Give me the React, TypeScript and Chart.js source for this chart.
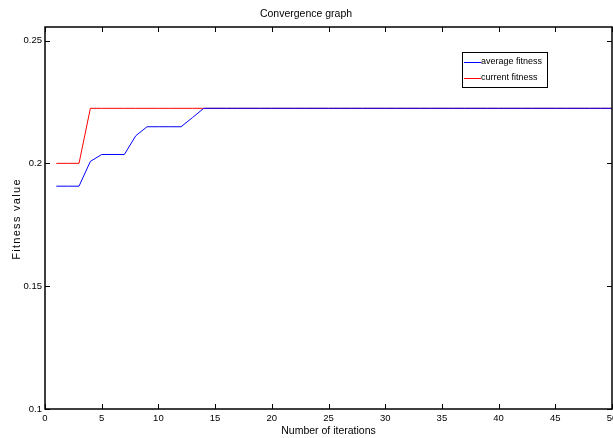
import React, { useEffect, useRef } from 'react';
import { Chart, registerables } from 'chart.js';

Chart.register(...registerables);

const iterations = [
  1, 2, 3, 4, 5, 6, 7, 8, 9, 10,
  11, 12, 13, 14, 15, 16, 17, 18, 19, 20,
  21, 22, 23, 24, 25, 26, 27, 28, 29, 30,
  31, 32, 33, 34, 35, 36, 37, 38, 39, 40,
  41, 42, 43, 44, 45, 46, 47, 48, 49, 50,
];

const averageFitness = [
  0.1907, 0.1907, 0.1907, 0.2008, 0.2036, 0.2036, 0.2036, 0.2112, 0.2149, 0.2149,
  0.2149, 0.2149, 0.2186, 0.2224, 0.2224, 0.2224, 0.2224, 0.2224, 0.2224, 0.2224,
  0.2224, 0.2224, 0.2224, 0.2224, 0.2224, 0.2224, 0.2224, 0.2224, 0.2224, 0.2224,
  0.2224, 0.2224, 0.2224, 0.2224, 0.2224, 0.2224, 0.2224, 0.2224, 0.2224, 0.2224,
  0.2224, 0.2224, 0.2224, 0.2224, 0.2224, 0.2224, 0.2224, 0.2224, 0.2224, 0.2224,
];

const currentFitness = [
  0.2, 0.2, 0.2, 0.2224, 0.2224, 0.2224, 0.2224, 0.2224, 0.2224, 0.2224,
  0.2224, 0.2224, 0.2224, 0.2224, 0.2224, 0.2224, 0.2224, 0.2224, 0.2224, 0.2224,
  0.2224, 0.2224, 0.2224, 0.2224, 0.2224, 0.2224, 0.2224, 0.2224, 0.2224, 0.2224,
  0.2224, 0.2224, 0.2224, 0.2224, 0.2224, 0.2224, 0.2224, 0.2224, 0.2224, 0.2224,
  0.2224, 0.2224, 0.2224, 0.2224, 0.2224, 0.2224, 0.2224, 0.2224, 0.2224, 0.2224,
];

const xTickValues = [0, 5, 10, 15, 20, 25, 30, 35, 40, 45, 50];
const yTickValues = [0.1, 0.15, 0.2, 0.25];
const seriesLabels = ['average fitness', 'current fitness'];
const seriesColors = ['#0000ff', '#ff0000'];
const chartTitle = 'Convergence graph';
const xAxisTitle = 'Number of iterations';
const yAxisTitle = 'Fitness value';

const FONT = "'Liberation Sans', Arial, sans-serif";

const framePlugin = {
  id: 'matlabFrame',
  afterDraw(chart: any) {
    const { ctx, chartArea, scales } = chart;
    const { left, right, top, bottom } = chartArea;
    ctx.save();
    ctx.strokeStyle = '#000';
    ctx.lineWidth = 1;
    const tl = 5;
    ctx.beginPath();
    xTickValues.forEach((v) => {
      const px = Math.round(scales.x.getPixelForValue(v)) + 0.5;
      ctx.moveTo(px, bottom);
      ctx.lineTo(px, bottom - tl);
      ctx.moveTo(px, top);
      ctx.lineTo(px, top + tl);
    });
    yTickValues.forEach((v) => {
      const py = Math.round(scales.y.getPixelForValue(v)) + 0.5;
      ctx.moveTo(left, py);
      ctx.lineTo(left + tl, py);
      ctx.moveTo(right, py);
      ctx.lineTo(right - tl, py);
    });
    ctx.stroke();

    ctx.lineWidth = 1.5;
    ctx.strokeRect(left, top, right - left, bottom - top);

    // y axis title, letter-spaced like the original
    ctx.save();
    ctx.translate(17, (top + bottom) / 2 + 1);
    ctx.rotate(-Math.PI / 2);
    ctx.font = `11px ${FONT}`;
    (ctx as any).letterSpacing = '1.3px';
    ctx.fillStyle = '#000';
    ctx.textAlign = 'center';
    ctx.textBaseline = 'middle';
    ctx.fillText(yAxisTitle, 0, 0);
    ctx.restore();

    // legend
    const lx = 462;
    const ly = 52;
    const lw = 85;
    const lh = 35;
    ctx.fillStyle = '#fff';
    ctx.fillRect(lx, ly, lw, lh);
    ctx.lineWidth = 1;
    ctx.strokeStyle = '#000';
    ctx.strokeRect(lx + 0.5, ly + 0.5, lw, lh);
    ctx.font = `9px ${FONT}`;
    ctx.textBaseline = 'middle';
    ctx.textAlign = 'left';
    chart.data.datasets.forEach((ds: any, i: number) => {
      const y = ly + 10 + i * 16;
      ctx.strokeStyle = ds.borderColor;
      ctx.lineWidth = 1;
      ctx.beginPath();
      ctx.moveTo(lx + 2, y + 0.5);
      ctx.lineTo(lx + 19, y + 0.5);
      ctx.stroke();
      ctx.fillStyle = '#000';
      ctx.fillText(ds.label, lx + 19, y);
    });
    ctx.restore();
  },
};

export default function App() {
  const canvasRef = useRef<HTMLCanvasElement | null>(null);

  useEffect(() => {
    const canvas = canvasRef.current;
    if (!canvas) return;
    const chart = new Chart(canvas, {
      type: 'line',
      data: {
        datasets: [
          {
            label: seriesLabels[0],
            data: iterations.map((x, i) => ({ x, y: averageFitness[i] })),
            borderColor: seriesColors[0],
            backgroundColor: seriesColors[0],
            borderWidth: 1,
            pointRadius: 0,
            tension: 0,
            fill: false,
          },
          {
            label: seriesLabels[1],
            data: iterations.map((x, i) => ({ x, y: currentFitness[i] })),
            borderColor: seriesColors[1],
            backgroundColor: seriesColors[1],
            borderWidth: 1,
            pointRadius: 0,
            tension: 0,
            fill: false,
          },
        ],
      },
      options: {
        responsive: false,
        animation: false,
        layout: { padding: { left: 0, right: 1, top: 0, bottom: 0 } },
        plugins: {
          legend: { display: false },
          tooltip: { enabled: false },
          title: {
            display: true,
            text: chartTitle,
            color: '#000',
            font: { family: FONT, size: 10.5, weight: 'normal', lineHeight: 1.2 },
            padding: { top: 8, bottom: 6.4 },
          },
        },
        scales: {
          x: {
            type: 'linear',
            min: 0,
            max: 50,
            afterBuildTicks: (scale: any) => {
              scale.ticks = xTickValues.map((v) => ({ value: v }));
            },
            afterFit: (scale: any) => {
              scale.height = 29;
              scale.paddingLeft = 0;
              scale.paddingRight = 0;
            },
            grid: { display: false, drawTicks: false },
            border: { display: false },
            ticks: {
              color: '#000',
              font: { family: FONT, size: 9.5 },
              padding: 4,
              maxRotation: 0,
              autoSkip: false,
            },
            title: {
              display: true,
              text: xAxisTitle,
              color: '#000',
              font: { family: FONT, size: 10.5 },
              padding: { top: 0, bottom: 1 },
            },
          },
          y: {
            type: 'linear',
            min: 0.1,
            max: 0.2555,
            afterBuildTicks: (scale: any) => {
              scale.ticks = yTickValues.map((v) => ({ value: v }));
            },
            afterFit: (scale: any) => {
              scale.width = 45;
              scale.paddingTop = 0;
              scale.paddingBottom = 0;
            },
            grid: { display: false, drawTicks: false },
            border: { display: false },
            ticks: {
              color: '#000',
              font: { family: FONT, size: 9.5 },
              padding: 3,
              autoSkip: false,
              callback: (v: any) => String(v),
            },
            title: { display: false },
          },
        },
      },
      plugins: [framePlugin],
    } as any);
    return () => chart.destroy();
  }, []);

  return (
    <div style={{ position: 'fixed', left: 0, top: 0, width: 613, height: 438, background: '#fff' }}>
      <canvas ref={canvasRef} width={613} height={438} style={{ display: 'block' }} />
    </div>
  );
}
